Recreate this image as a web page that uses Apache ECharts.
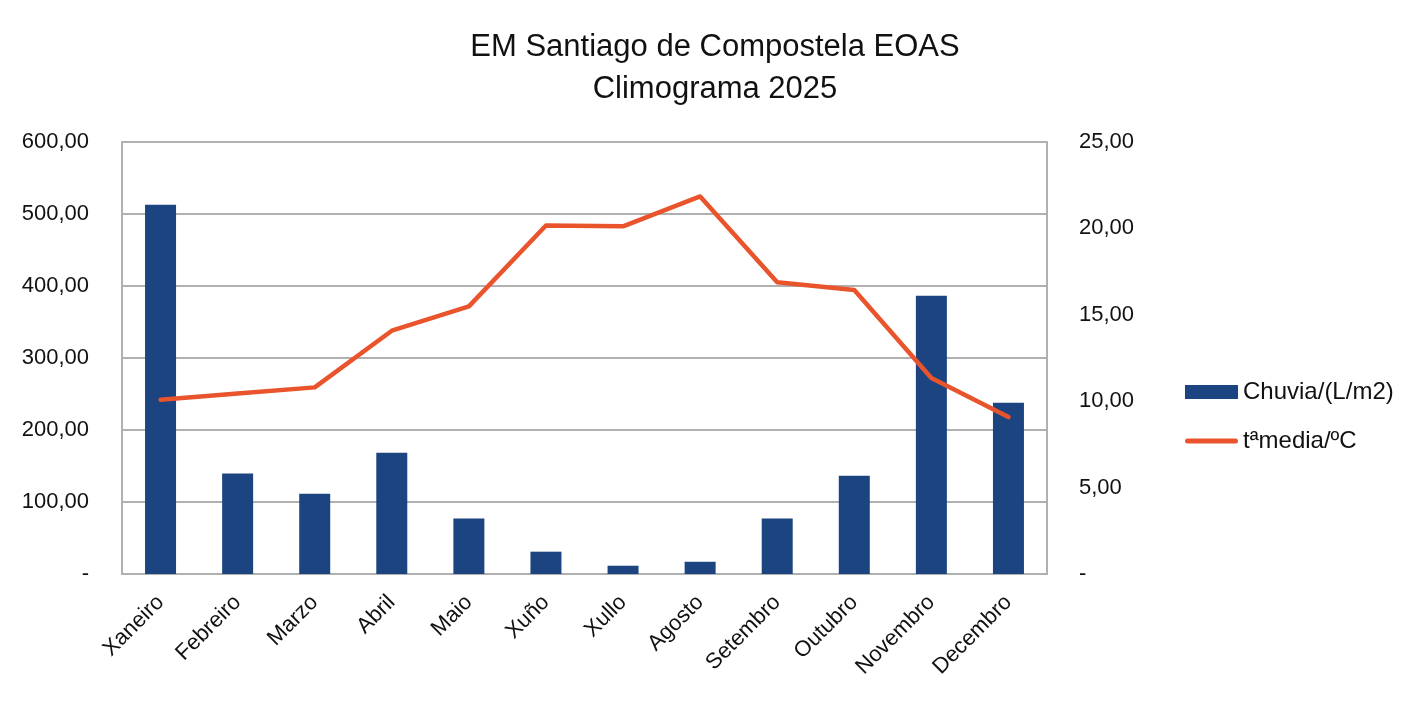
<!DOCTYPE html>
<html>
<head>
<meta charset="utf-8">
<script src="https://cdn.jsdelivr.net/npm/echarts@6/dist/echarts.min.js"></script>
<style>
html,body{margin:0;padding:0;background:#fff;}
#c{width:1414px;height:714px;}
</style>
</head>
<body>
<div id="c"></div>
<script>
const categories = ['Xaneiro','Febreiro','Marzo','Abril','Maio','Xuño','Xullo','Agosto','Setembro','Outubro','Novembro','Decembro'];
const rainfall = [513, 139.5, 111.5, 168.5, 77, 31, 11.5, 17, 77, 136.5, 386.5, 238];
const temperature = [10.09, 10.45, 10.8, 14.08, 15.49, 20.17, 20.12, 21.85, 16.88, 16.43, 11.34, 9.08];
const titleLines = ['EM Santiago de Compostela EOAS', 'Climograma 2025'];
const seriesNames = ['Chuvia/(L/m2)', 'tªmedia/ºC'];

function fmt(v){
  if (v === 0) return '-';
  return v.toFixed(2).replace('.', ',');
}

const chart = echarts.init(document.getElementById('c'));
const font = 'Liberation Sans';
chart.setOption({
  backgroundColor: '#fff',
  animation: false,
  title: {
    text: titleLines.join('\n'),
    top: 21,
    left: 710,
    textAlign: 'center',
    textStyle: {fontFamily: font, fontSize: 31, fontWeight: 'normal', color: '#111', lineHeight: 42}
  },
  legend: {
    orient: 'vertical',
    left: 1180,
    top: 375,
    itemGap: 25,
    itemWidth: 53,
    itemHeight: 14,
    textStyle: {fontFamily: font, fontSize: 24, color: '#111'},
    data: [
      {name: seriesNames[0], icon: 'rect'},
      {name: seriesNames[1], icon: 'path://M2.5,0 L50.5,0 A2.5,2.5 0 0 1 50.5,5 L2.5,5 A2.5,2.5 0 0 1 2.5,0 Z'}
    ]
  },
  grid: {left: 122, right: 367, top: 142, bottom: 140, containLabel: false},
  xAxis: {
    type: 'category',
    data: categories,
    axisLine: {lineStyle: {color: '#b0b0b0', width: 2}},
    axisTick: {show: false},
    axisLabel: {rotate: 45, fontFamily: font, fontSize: 22, color: '#111', margin: 25, interval: 0}
  },
  yAxis: [
    {
      type: 'value', min: 0, max: 600, interval: 100,
      axisLine: {show: true, lineStyle: {color: '#b0b0b0', width: 2}},
      axisTick: {show: false},
      splitLine: {lineStyle: {color: '#b0b0b0', width: 2}},
      axisLabel: {formatter: fmt, fontFamily: font, fontSize: 22, color: '#111', margin: 33}
    },
    {
      type: 'value', min: 0, max: 25, interval: 5,
      axisLine: {show: true, lineStyle: {color: '#b0b0b0', width: 2}},
      axisTick: {show: false},
      splitLine: {show: false},
      axisLabel: {formatter: fmt, fontFamily: font, fontSize: 22, color: '#111', margin: 32}
    }
  ],
  series: [
    {
      name: seriesNames[0], type: 'bar', data: rainfall, yAxisIndex: 0,
      barWidth: 31,
      itemStyle: {color: '#1c4480'}
    },
    {
      name: seriesNames[1], type: 'line', data: temperature, yAxisIndex: 1,
      symbol: 'none',
      lineStyle: {color: '#e9542c', width: 4.5, cap: 'round', join: 'round'},
      itemStyle: {color: '#e9542c'}
    }
  ]
});
</script>
</body>
</html>
